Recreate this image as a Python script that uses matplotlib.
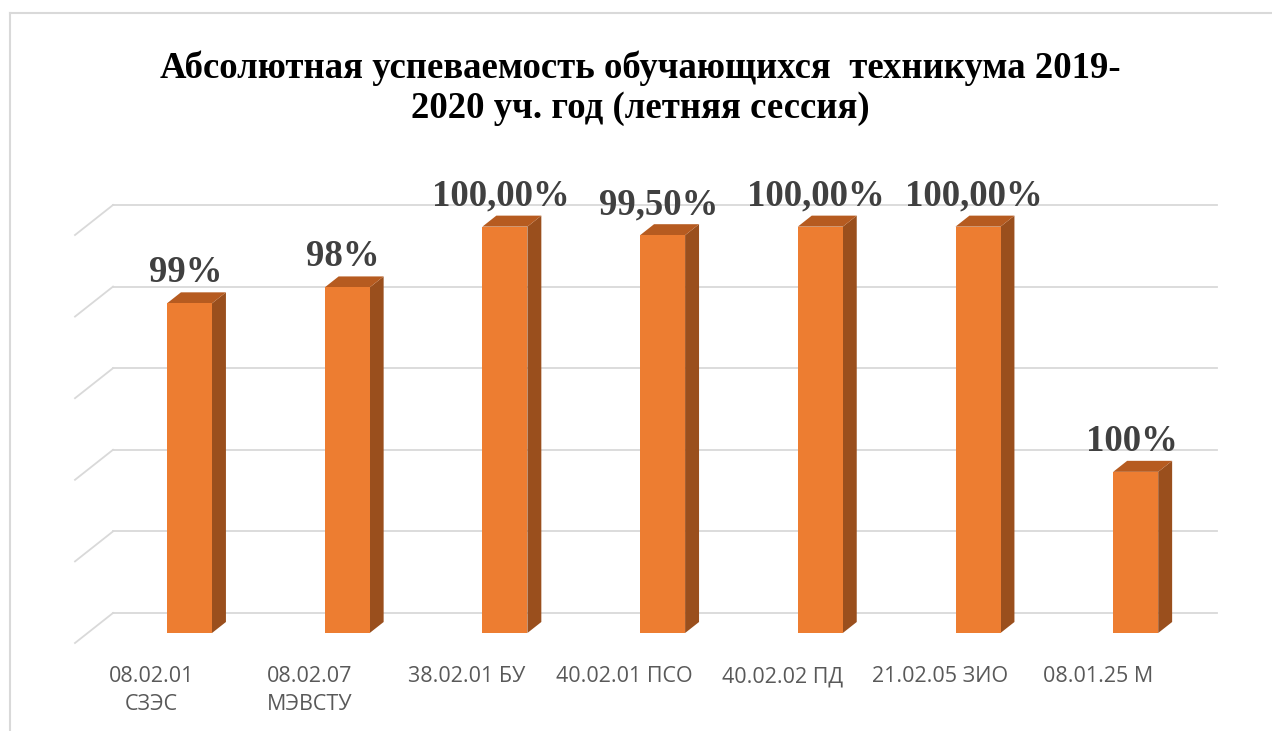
import matplotlib
matplotlib.use('Agg')
import matplotlib.pyplot as plt
from matplotlib.patches import Polygon
from matplotlib.lines import Line2D
from matplotlib.transforms import ScaledTranslation

# ---------------- data ----------------
categories = ['08.02.01\nСЗЭС', '08.02.07\nМЭВСТУ', '38.02.01 БУ', '40.02.01 ПСО',
              '40.02.02 ПД', '21.02.05 ЗИО', '08.01.25 М']
values = [0.808, 0.847, 0.996, 0.975, 0.996, 0.996, 0.395]
value_labels = ['99%', '98%', '100,00%', '99,50%', '100,00%', '100,00%', '100%']
grid_ticks = [0.0, 0.2, 0.4, 0.6, 0.8, 1.0]
title = 'Абсолютная успеваемость обучающихся  техникума 2019-\n2020 уч. год (летняя сессия)'

# ---------------- style ----------------
W, H, DPI = 1272, 731, 100
FRONT = '#ED7D31'
TOP = '#B65B20'
SIDE = '#9A4F1D'
GRID = '#D9D9D9'

fig = plt.figure(figsize=(W / DPI, H / DPI), dpi=DPI)
fig.patch.set_facecolor('white')

# axes frame = front plane of the bars
ax_left, ax_bottom, ax_w, ax_h = 110.65, 98, 1103.9, 408
ax = fig.add_axes([ax_left / W, ax_bottom / H, ax_w / W, ax_h / H])
n = len(categories)
ax.set_xlim(-0.5, n - 0.5)
ax.set_ylim(0, 1)
ax.set_frame_on(False)
ax.set_yticks([])

px_per_x = ax_w / n
px_per_y = ax_h

# oblique depth (full depth offset in pixels)
DXF = 38 / px_per_x
DYF = 30 / px_per_y
D0, D1 = 1 / 3, 0.70       # bar front / back depth
XL, XR = -0.6457, 6.355     # wall extent


def proj(x, v, d):
    return (x + (d - D0) * DXF, v + (d - D0) * DYF)


# gridlines (back wall + left side wall)
for g in grid_ticks:
    x0, y0 = proj(XL, g, 1)
    x1, y1 = proj(XR, g, 1)
    ax.add_line(Line2D([x0, x1], [y0, y1], color=GRID, lw=1.3, clip_on=False, zorder=1))
    xa, ya = proj(XL, g, 0)
    ax.add_line(Line2D([xa, x0], [ya, y0], color=GRID, lw=1.3, clip_on=False, zorder=1))

# bars
BW = 45 / px_per_x
xs = list(range(n))
ax.bar(xs, values, width=BW, color=FRONT, zorder=3, clip_on=False)
for x, v in zip(xs, values):
    r = x + BW / 2
    l = x - BW / 2
    side = [proj(r, 0, D0), proj(r, 0, D1), proj(r, v, D1), proj(r, v, D0)]
    top = [proj(l, v, D0), proj(r, v, D0), proj(r, v, D1), proj(l, v, D1)]
    ax.add_patch(Polygon(side, closed=True, facecolor=SIDE, edgecolor='none', zorder=2.9, clip_on=False))
    ax.add_patch(Polygon(top, closed=True, facecolor=TOP, edgecolor='none', zorder=2.9, clip_on=False))

# value labels
for x, v, lab in zip(xs, values, value_labels):
    ax.annotate(lab, (x, v), xytext=(-4, 21), textcoords='offset pixels',
                ha='center', va='baseline', fontsize=26.5, fontweight='bold',
                family='Liberation Serif', color='#404040', zorder=5)

# category labels
ax.set_xticks(xs)
ax.set_xticklabels(categories, fontsize=15.5, family='Open Sans', color='#595959',
                   linespacing=1.4)
ax.tick_params(axis='x', length=0, pad=24)
shift = ScaledTranslation(-38 / DPI, 0, fig.dpi_scale_trans)
for t in ax.get_xticklabels():
    t.set_transform(t.get_transform() + shift)

# title
fig.text(0.503, 1 - 50 / H, title, ha='center', va='top', fontsize=26.5,
         fontweight='bold', family='Liberation Serif', color='black', linespacing=1.2)

# chart area border
fig.add_artist(Line2D([10 / W, 10 / W], [0, 1 - 13 / H], color='#D9D9D9', lw=1.5))
fig.add_artist(Line2D([10 / W, 1], [1 - 13 / H, 1 - 13 / H], color='#D9D9D9', lw=1.5))

fig.savefig('out.png', dpi=DPI)
